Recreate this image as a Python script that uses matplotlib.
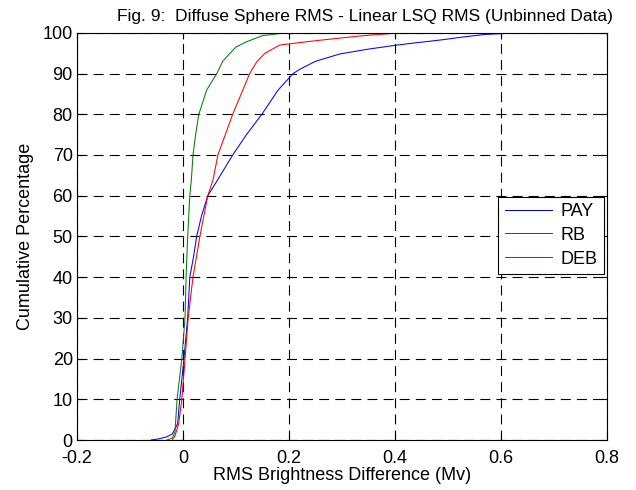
import numpy as np
import matplotlib.pyplot as plt

plt.rcParams['font.family'] = ['Liberation Sans', 'DejaVu Sans']

# cumulative percentage vs RMS brightness difference
pay_x = [-0.06, -0.045, -0.03, -0.02, -0.01, -0.006, 0.002, 0.009, 0.013, 0.02, 0.026,
         0.035, 0.047, 0.066, 0.08, 0.094, 0.12, 0.149, 0.18, 0.208, 0.22, 0.25,
         0.296, 0.35, 0.404, 0.45, 0.49, 0.53, 0.57, 0.6, 0.623, 0.7, 0.8]
pay_y = [0, 0.3, 0.8, 1.5, 4, 10, 20, 30, 40, 45, 50,
         55, 60, 64, 67, 70, 75, 80, 86, 90, 91, 93,
         94.8, 96, 97, 97.7, 98.3, 99, 99.6, 99.8, 100, 100, 100]

rb_x = [-0.03, -0.02, -0.015, -0.011, -0.002, 0.004, 0.006, 0.009, 0.013, 0.016,
        0.019, 0.024, 0.03, 0.045, 0.064, 0.075, 0.089, 0.1, 0.12, 0.15, 0.18, 0.2, 0.8]
rb_y = [0, 0.5, 2, 10, 20, 30, 40, 50, 60, 64,
        70, 75, 80, 86, 90, 93, 95, 96.5, 97.8, 99.3, 99.8, 100, 100]

deb_x = [-0.02, -0.015, -0.008, -0.002, 0.004, 0.01, 0.019, 0.032, 0.047, 0.057,
         0.066, 0.08, 0.094, 0.11, 0.126, 0.14, 0.155, 0.183, 0.22, 0.26, 0.296,
         0.34, 0.38, 0.41, 0.8]
deb_y = [0, 1, 4, 10, 20, 30, 40, 50, 60, 64,
         70, 75, 80, 85, 90, 93, 95, 97, 97.6, 98.2, 98.7,
         99.3, 99.7, 100, 100]

series = [("PAY", pay_x, pay_y, "#0000ff"),
          ("RB", rb_x, rb_y, "#008000"),
          ("DEB", deb_x, deb_y, "#ff0000")]

fig = plt.figure(figsize=(6.36, 4.90), dpi=100)
ax = fig.add_axes([0.121, 0.102, 0.833, 0.831])

for name, x, y, c in series:
    ax.plot(x, y, color=c, lw=0.75, label=name)

ax.set_xlim(-0.2, 0.8)
ax.set_ylim(0, 100)
ax.set_xticks(np.arange(-0.2, 0.81, 0.2))
ax.set_xticklabels(["-0.2", "0", "0.2", "0.4", "0.6", "0.8"])
ax.set_yticks(np.arange(0, 101, 10))
ax.grid(True, color="black", linestyle=(0, (9, 5.5)), lw=0.8)
ax.tick_params(direction="in", top=True, right=True, length=4, labelsize=13)
ax.tick_params(axis="x", pad=7)
ax.tick_params(axis="y", pad=3)
for s in ax.spines.values():
    s.set_linewidth(0.8)

fig.text(365 / 636, 1 - 21 / 490,
         "Fig. 9:  Diffuse Sphere RMS - Linear LSQ RMS (Unbinned Data)",
         fontsize=12.5, ha="center", va="baseline")
ax.set_xlabel("RMS Brightness Difference (Mv)", fontsize=13, labelpad=0)
ax.set_ylabel("Cumulative Percentage", fontsize=13, labelpad=6)

leg = ax.legend(loc="upper right", bbox_to_anchor=(0.995, 0.598), fontsize=13,
                fancybox=False, edgecolor="black", framealpha=1,
                handlelength=2.6, handletextpad=0.5, borderpad=0.35,
                labelspacing=0.38, borderaxespad=0)
leg.get_frame().set_linewidth(0.8)

fig.savefig("out.png", dpi=100)
